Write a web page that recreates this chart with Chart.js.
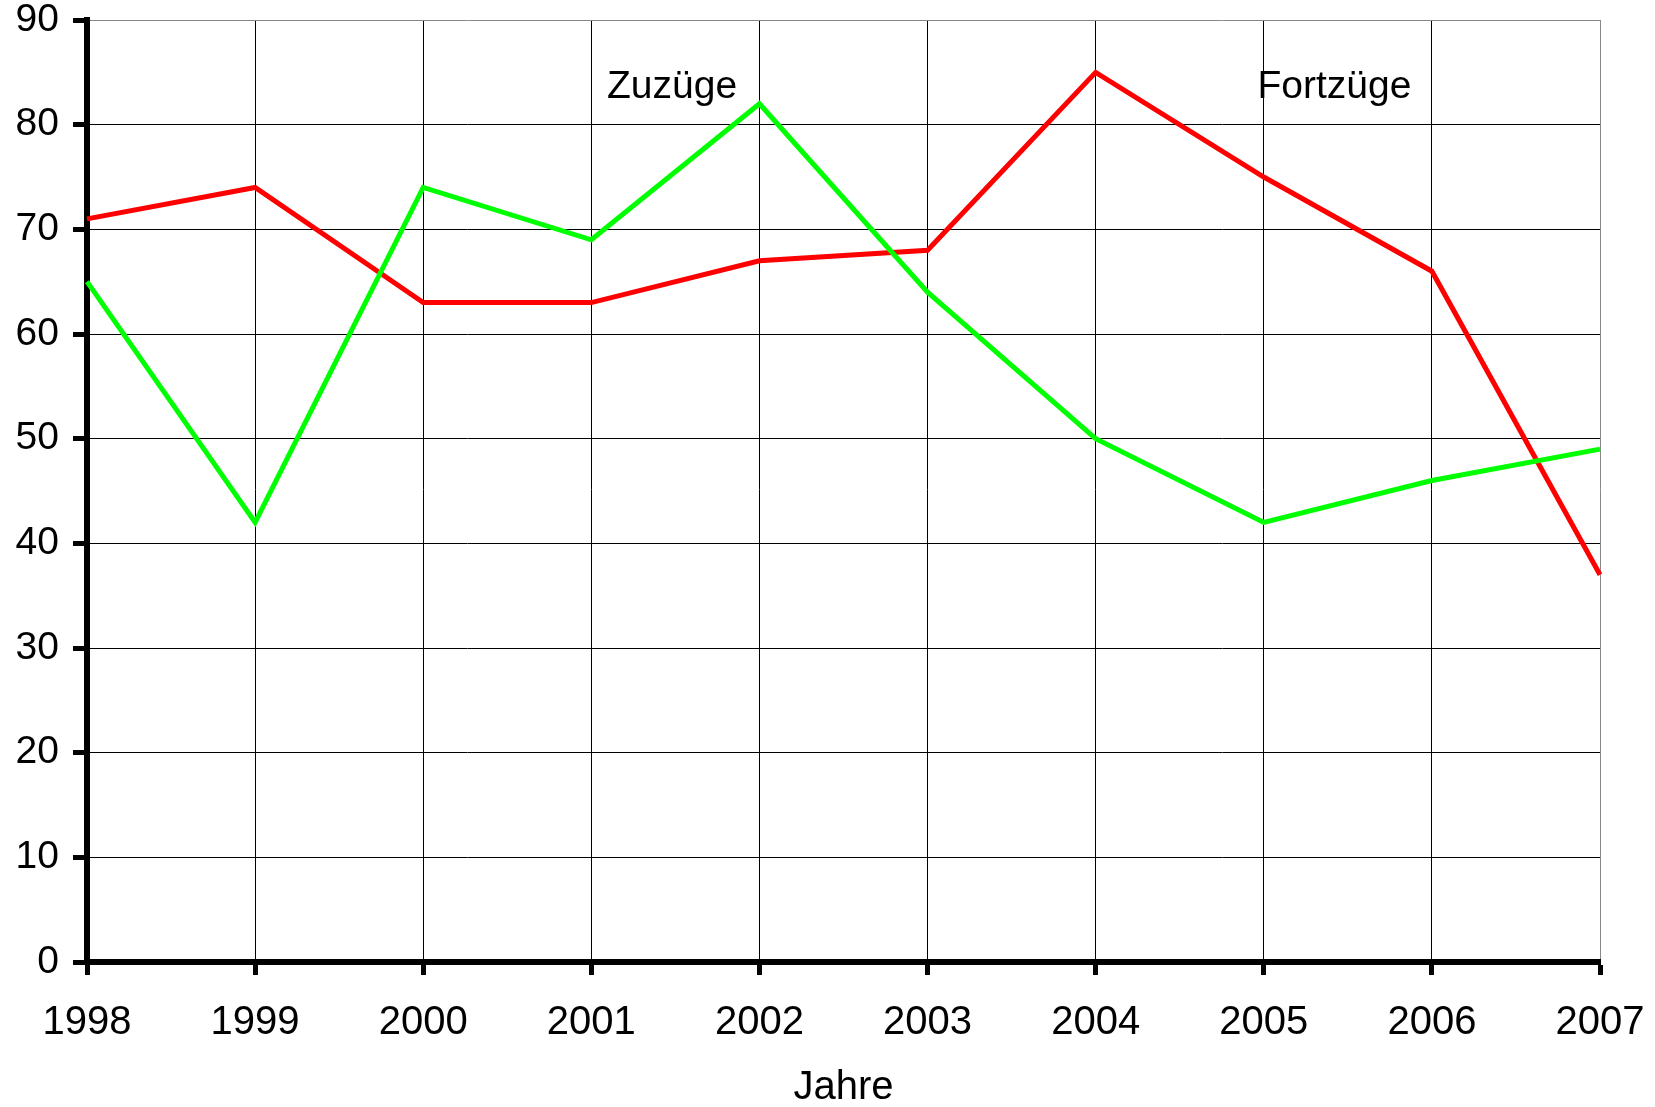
<!DOCTYPE html>
<html>
<head>
<meta charset="utf-8">
<script src="https://cdn.jsdelivr.net/npm/chart.js@4"></script>
<style>
  html, body { margin: 0; padding: 0; background: #fff; }
  canvas { display: block; }
</style>
</head>
<body>
<canvas id="chart" width="1655" height="1107"></canvas>
<script>
// years on the x axis
const jahre = ['1998', '1999', '2000', '2001', '2002', '2003', '2004', '2005', '2006', '2007'];

// values
const zuzuege = [65, 42, 74, 69, 82, 64, 50, 42, 46, 49];
const fortzuege = [71, 74, 63, 63, 67, 68, 85, 75, 66, 37];

const seriesNames = ['Zuzüge', 'Fortzüge'];

const FONT = '"Liberation Sans", Arial, sans-serif';

// labels written inside the plot, next to the lines
const lineLabels = {
    id: 'lineLabels',
    afterDatasetsDraw(chart) {
        const { ctx, scales } = chart;
        const spots = [
            { text: seriesNames[0], x: 3.48, y: 83.6 },
            { text: seriesNames[1], x: 7.42, y: 83.6 }
        ];
        ctx.save();
        ctx.font = '39px ' + FONT;
        ctx.fillStyle = '#000';
        ctx.textAlign = 'center';
        ctx.textBaseline = 'middle';
        spots.forEach(s => {
            ctx.fillText(s.text, scales.x.getPixelForValue(s.x), scales.y.getPixelForValue(s.y));
        });
        ctx.restore();
    }
};

new Chart(document.getElementById('chart').getContext('2d'), {
    type: 'line',
    data: {
        labels: jahre,
        datasets: [
            {
                label: seriesNames[0],
                data: zuzuege,
                borderColor: '#00ff00',
                borderWidth: 5,
                pointRadius: 0,
                tension: 0
            },
            {
                label: seriesNames[1],
                data: fortzuege,
                borderColor: '#ff0000',
                borderWidth: 5,
                pointRadius: 0,
                tension: 0
            }
        ]
    },
    options: {
        responsive: false,
        animation: false,
        layout: { padding: 0 },
        plugins: {
            legend: { display: false },
            tooltip: { enabled: false }
        },
        scales: {
            x: {
                offset: false,
                afterFit: (s) => {
                    s.height = 145;
                    s.paddingLeft = 0;
                    s.paddingRight = 55;
                },
                grid: {
                    color: (c) => c.index === jahre.length - 1 ? '#888' : '#000',
                    lineWidth: 1,
                    tickLength: 13,
                    tickColor: '#000',
                    tickWidth: 5
                },
                border: { display: true, color: '#000', width: 6 },
                ticks: {
                    color: '#000',
                    padding: 24,
                    maxRotation: 0,
                    font: { family: FONT, size: 40 }
                },
                title: {
                    display: true,
                    text: 'Jahre',
                    color: '#000',
                    padding: { top: 0, bottom: 0 },
                    font: { family: FONT, size: 40, lineHeight: 0.95 }
                }
            },
            y: {
                min: 0,
                max: 90,
                afterFit: (s) => {
                    s.width = 87;
                    s.paddingTop = 20;
                    s.paddingBottom = 0;
                },
                grid: {
                    color: (c) => c.tick && c.tick.value === 90 ? '#888' : '#000',
                    lineWidth: 1,
                    tickLength: 14,
                    tickColor: '#000',
                    tickWidth: 5
                },
                border: { display: true, color: '#000', width: 6 },
                ticks: {
                    stepSize: 10,
                    color: '#000',
                    padding: 14,
                    font: { family: FONT, size: 39 }
                }
            }
        }
    },
    plugins: [lineLabels]
});
</script>
</body>
</html>
